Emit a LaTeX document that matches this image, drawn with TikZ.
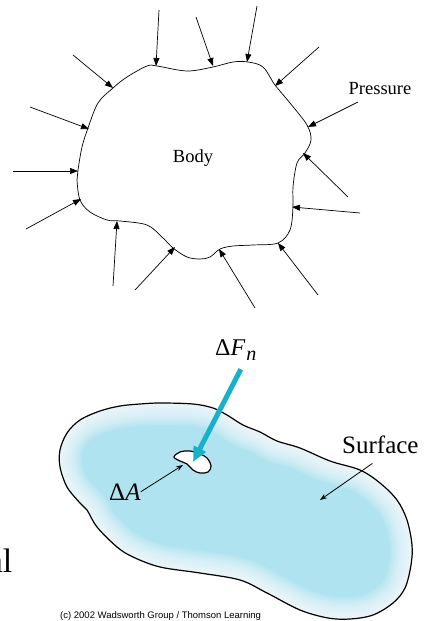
\documentclass[tikz,border=0pt]{standalone}
\usepackage{fontspec}
\setmainfont{Liberation Serif}
\newfontfamily\credfont{Liberation Sans}
\usetikzlibrary{arrows.meta,calc}
\definecolor{skin}{RGB}{176,227,240}
\definecolor{force}{RGB}{22,178,204}
\def\bodyline{plot[smooth cycle,tension=0.55] coordinates {(113,88) (127,77) (147,66) (157,66) (187,71) (213,67) (233,62) (248,62) (263,67) (275,85) (290,103) (307,125) (311,140) (305,153) (297,163) (293,187) (293,207) (290,230) (278,243) (253,245) (233,246) (220,249) (210,257) (200,259) (187,257) (173,248) (163,238) (147,225) (120,221) (107,220) (90,212) (80,200) (77,180) (78,170) (82,147) (88,128) (98,103)}}
\def\blobline{plot[smooth cycle,tension=0.55] coordinates {(60,450) (67,433) (80,420) (100,411) (120,406) (140,404) (160,403) (193,404) (213,408) (227,415) (243,425) (260,432) (277,441) (300,448) (330,461) (360,470) (380,483) (397,500) (407,520) (412,545) (411,565) (405,588) (393,603) (373,615) (350,619) (328,618) (300,610) (267,593) (240,580) (200,573) (160,567) (133,557) (117,547) (97,527) (87,510) (80,503) (67,487) (60,467)}}
\def\patchline{plot[smooth cycle,tension=0.6] coordinates {(174,457) (180,452) (190,451) (200,454) (207,458) (211,466) (208,472) (200,473) (193,470) (187,464) (180,461)}}

\begin{document}
\begin{tikzpicture}[x=1pt,y=-1pt,
  prs/.style={draw,line width=0.7pt,-{Triangle[length=8pt,width=6pt]}},
  ptr/.style={draw,line width=0.8pt,-{Stealth[length=7pt,width=5pt]}},
  lbl/.style={inner sep=0pt,anchor=base}]
\useasboundingbox (0,0) rectangle (426,621);
% body under pressure
\draw[line width=0.7pt] \bodyline;
\foreach \i/\tx/\ty/\hx/\hy in {1/159/10/156/66, 2/196/17/213/66, 3/257/6/247/62,
    4/319/47/275/86, 5/73/55/113/88, 6/30/107/89/129, 7/13/171/78/171,
    8/26/229/81/199, 9/113/286/117/221, 10/135/290/175/247, 11/255/308/219/249,
    12/318/295/278/243, 13/360/213/292/207, 14/348/197/303/153, 15/358/102/308/127} {
  \coordinate (t\i) at (\tx,\ty);
  \coordinate (h\i) at (\hx,\hy);
  \draw[prs] (t\i) -- (h\i);
}
\node[lbl,font=\fontsize{18.5}{20}\selectfont] (body) at (193,162) {Body};
\node[lbl,font=\fontsize{18.5}{20}\selectfont] (press) at (380,94) {Pressure};
% surface with small area
\fill[skin] \blobline;
\begin{scope}
  \clip \blobline;
  \foreach \w in {4,8,...,44}
    \draw[white,opacity=0.12,line width=\w pt] \blobline;
\end{scope}
\draw[line width=1.2pt] \blobline;
\draw[fill=white,line width=1.2pt] \patchline;
\node[lbl,anchor=base west,font=\fontsize{25}{28}\selectfont] (dA) at (109,500) {Δ\textit{A}};
\node[lbl,anchor=base west,font=\fontsize{25}{28}\selectfont] (surf) at (342,453) {Surface};
\node[lbl,anchor=base west,font=\fontsize{24}{28}\selectfont] (dF) at (215,355)
  {Δ\textit{F}\kern1pt\raisebox{-5pt}{\fontsize{20}{20}\selectfont\textit{n}}};
\coordinate (patch) at (183,465);
\coordinate (mid) at (320,500);
\coordinate (tip) at (193,462);
\draw[ptr] (dA.east) -- (patch);
\draw[ptr] (surf.south) ++(-8,10) -- (mid);
\draw[force,line width=5pt,-{Triangle[length=15pt,width=13pt]}] (dF.south) ++(5,9) -- (tip);
\node[lbl,anchor=base east,font=\fontsize{34}{36}\selectfont] (cut) at (12.5,572) {al};
\node[lbl,anchor=base west,font=\credfont\fontsize{9.5}{10}\selectfont] (cred) at (60,618)
  {(c) 2002 Wadsworth Group / Thomson Learning};
\end{tikzpicture}
\end{document}
